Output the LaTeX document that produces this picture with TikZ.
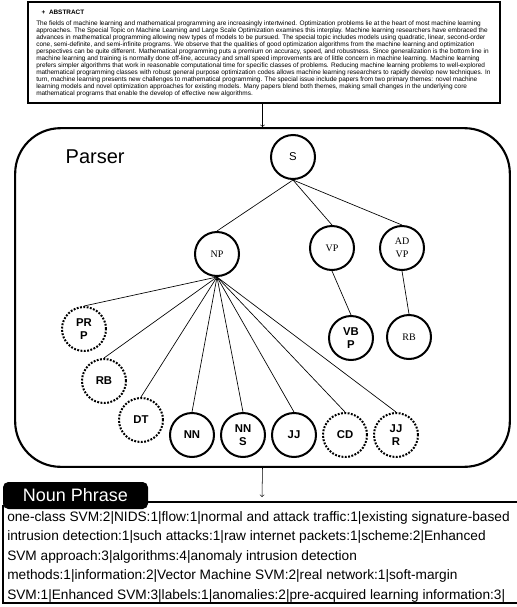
\documentclass[tikz,border=0pt]{standalone}
\usepackage{fontspec}
\setmainfont{Liberation Serif}
\setsansfont{Liberation Sans}
\usetikzlibrary{arrows,positioning}

\begin{document}
\begin{tikzpicture}[x=0.75pt,y=-0.75pt,
	tag/.style={circle,draw,line width=1.5pt,minimum size=33pt,inner sep=0pt,align=center,font=\sffamily\bfseries\fontsize{8.5}{10}\selectfont},
	tagopt/.style={tag,dash pattern=on 1.4pt off 1.1pt},
	tagserif/.style={tag,font=\rmfamily\fontsize{7.5}{10}\selectfont},
	branch/.style={line width=0.5pt}]
	\useasboundingbox (0,0) rectangle (517,607);
	% abstract
	\node[draw,line width=1.6pt,minimum width=354pt,minimum height=75.75pt] (abs) at (264,52.5) {};
	\node[anchor=west,font=\sffamily\bfseries\fontsize{4.8}{5}\selectfont] (abshead) at (37,12) {+\ \ ABSTRACT};
	\node[anchor=north west,inner sep=0pt,align=left,font=\sffamily\fontsize{4.85}{5.25}\selectfont] (abstext) at (36,21) {%
		The fields of machine learning and mathematical programming are increasingly intertwined. Optimization problems lie at the heart of most machine learning\\
		approaches. The Special Topic on Machine Learning and Large Scale Optimization examines this interplay. Machine learning researchers have embraced the\\
		advances in mathematical programming allowing new types of models to be pursued. The special topic includes models using quadratic, linear, second-order\\
		cone, semi-definite, and semi-infinite programs. We observe that the qualities of good optimization algorithms from the machine learning and optimization\\
		perspectives can be quite different. Mathematical programming puts a premium on accuracy, speed, and robustness. Since generalization is the bottom line in\\
		machine learning and training is normally done off-line, accuracy and small speed improvements are of little concern in machine learning. Machine learning\\
		prefers simpler algorithms that work in reasonable computational time for specific classes of problems. Reducing machine learning problems to well-explored\\
		mathematical programming classes with robust general purpose optimization codes allows machine learning researchers to rapidly develop new techniques. In\\
		turn, machine learning presents new challenges to mathematical programming. The special issue include papers from two primary themes: novel machine\\
		learning models and novel optimization approaches for existing models. Many papers blend both themes, making small changes in the underlying core\\
		mathematical programs that enable the develop of effective new algorithms.};
	% parser
	\node[draw,line width=1.6pt,rounded corners=34pt,minimum width=371pt,minimum height=254pt] (parser) at (262.5,297.5) {};
	\node[anchor=west,font=\sffamily\fontsize{15}{16}\selectfont] (parserlabel) at (61,157) {Parser};
	\draw[->] (abs.south -| parser.north) -- (parser.north);
	% tree
	\node[tag,font=\sffamily\fontsize{8.5}{10}\selectfont] (s) at (293,157) {S};
	\node[tagserif] (np) at (217,254) {NP};
	\node[tagserif] (vp) at (332,248) {VP};
	\node[tagserif] (advp) at (402,248) {AD\\VP};
	\node[tag] (vbp) at (351,338) {VB\\P};
	\node[tagserif] (rbv) at (409,337) {RB};
	\node[tagopt] (prp) at (84,329) {PR\\P};
	\node[tagopt] (rb) at (104,381) {RB};
	\node[tagopt] (dt) at (141,420) {DT};
	\node[tag] (nn) at (192,435) {NN};
	\node[tag] (nns) at (243,435) {NN\\S};
	\node[tag] (jj) at (294,435) {JJ};
	\node[tagopt] (cd) at (345,435) {CD};
	\node[tagopt] (jjr) at (396,435) {JJ\\R};
	\foreach \c in {np,vp,advp}
		\draw[branch] (s.south) -- (\c.north);
	\foreach \c in {prp,rb,dt,nn,nns,jj,cd,jjr}
		\draw[branch] (np.south) -- (\c.north);
	\draw[branch] (vp.south) -- (vbp.north);
	\draw[branch] (advp.south) -- (rbv.north);
	% noun phrase
	\node[fill=black,rounded corners=4pt,minimum width=108.75pt,minimum height=20.25pt,text=white,font=\sffamily\fontsize{13.5}{14}\selectfont] (nphead) at (75.5,495.5) {Noun Phrase};
	\coordinate (npin) at (262,497);
	\draw[->] (parser.south) -- (npin);
	\draw[line width=2pt] (nphead.east |- 0,502) -- (517,502);
	\draw[line width=1.3pt] (3,505) -- (3,603) -- (517,603);
	\node[anchor=north west,inner sep=0pt,align=left,font=\sffamily\fontsize{10.25}{14.6}\selectfont] (nptext) at (7,511) {%
		one-class SVM:2|NIDS:1|flow:1|normal and attack traffic:1|existing signature-based\\
		intrusion detection:1|such attacks:1|raw internet packets:1|scheme:2|Enhanced\\
		SVM approach:3|algorithms:4|anomaly intrusion detection\\
		methods:1|information:2|Vector Machine SVM:2|real network:1|soft-margin\\
		SVM:1|Enhanced SVM:3|labels:1|anomalies:2|pre-acquired learning information:3|};
\end{tikzpicture}
\end{document}
